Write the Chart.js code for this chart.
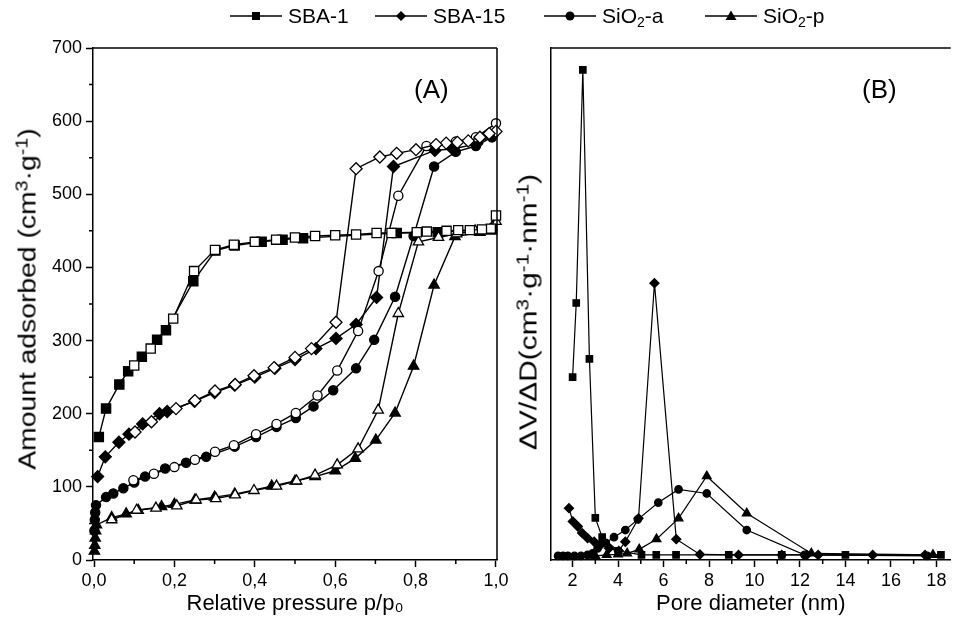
<!DOCTYPE html>
<html><head><meta charset="utf-8">
<script src="https://cdn.jsdelivr.net/npm/chart.js@4.4.1/dist/chart.umd.min.js"></script>
<style>
html,body{margin:0;padding:0;background:#fff;}
#wrap{position:relative;width:957px;height:628px;overflow:hidden;font-family:"Liberation Sans",Arial,sans-serif;color:#000;}
canvas{position:absolute;left:0;top:0;}
.item{position:absolute;top:2px;height:28px;display:flex;align-items:center;font-size:21px;white-space:nowrap;}
.item svg{margin-right:6px;}
.sb{font-size:14px;position:relative;top:6px;line-height:0;}
.lab{position:absolute;font-size:26px;line-height:1;}
.ytitle{position:absolute;font-size:23px;line-height:1;white-space:nowrap;}
.ytitle .sp{font-size:16px;position:relative;top:-8px;line-height:0;}
</style></head>
<body><div id="wrap">
<canvas id="cA" width="957" height="628"></canvas>
<canvas id="cB" width="957" height="628"></canvas>
<div class="item" style="left:230px"><svg width="52" height="20"><line x1="0" y1="10" x2="52" y2="10" stroke="#000" stroke-width="1.5"/><rect x="22" y="6" width="8" height="8" fill="#000"/></svg>SBA-1</div>
<div class="item" style="left:375px"><svg width="52" height="20"><line x1="0" y1="10" x2="52" y2="10" stroke="#000" stroke-width="1.5"/><polygon points="26,5 31,10 26,15 21,10" fill="#000"/></svg>SBA-15</div>
<div class="item" style="left:544px"><svg width="52" height="20"><line x1="0" y1="10" x2="52" y2="10" stroke="#000" stroke-width="1.5"/><circle cx="26" cy="10" r="4.5" fill="#000"/></svg>SiO<span class="sb">2</span>-a</div>
<div class="item" style="left:705px"><svg width="52" height="20"><line x1="0" y1="10" x2="52" y2="10" stroke="#000" stroke-width="1.5"/><polygon points="26,4.5 31.5,14 20.5,14" fill="#000"/></svg>SiO<span class="sb">2</span>-p</div>
<div class="lab" style="left:414px;top:76px">(A)</div>
<div class="lab" style="left:862px;top:76px">(B)</div>
<div class="ytitle" style="left:28px;top:299px;transform:translate(-50%,-50%) scale(1,1.23) rotate(-90deg)">Amount adsorbed (cm<span class="sp">3</span>·g<span class="sp">-1</span>)</div>
<div class="ytitle" style="left:529px;top:312px;transform:translate(-50%,-50%) scale(1,1.3) rotate(-90deg)">ΔV/ΔD(cm<span class="sp">3</span>·g<span class="sp">-1</span>·nm<span class="sp">-1</span>)</div>
</div>
<script>
// ---------- Panel A: isotherms (p/p0, cm3/g) ----------
const sba1AdsP = [0.012,0.03,0.063,0.085,0.119,0.157,0.179,0.247,0.302,0.35,0.417,0.469,0.52,0.753,0.855,0.99];
const sba1AdsV = [168,207,240,258,278,301,314,381,423,430,435,438,440,447,448,452];
const sba1DesP = [1.0,0.987,0.965,0.935,0.906,0.877,0.828,0.803,0.74,0.703,0.652,0.6,0.55,0.5,0.453,0.4,0.348,0.301,0.249,0.197,0.141,0.1];
const sba1DesV = [471,453,452,451,451,450,449,448,447,447,445,444,443,441,438,435,431,424,395,330,289,266];

const sba15AdsP = [0.009,0.028,0.062,0.087,0.121,0.163,0.182,0.25,0.3,0.35,0.4,0.45,0.5,0.552,0.602,0.652,0.703,0.745,0.848,0.892,0.952,0.99];
const sba15AdsV = [114,141,161,172,186,200,203,217,229,239,250,262,274,289,303,322,359,538,560,562,569,580];
const sba15DesP = [1.0,0.983,0.96,0.931,0.904,0.876,0.851,0.801,0.753,0.711,0.652,0.602,0.541,0.5,0.448,0.398,0.351,0.301,0.251,0.204,0.143,0.102];
const sba15DesV = [586,583,578,573,571,570,568,561,556,551,535,325,289,277,263,252,240,231,218,207,189,175];

const sioaAdsP = [0.001,0.002,0.003,0.005,0.03,0.048,0.073,0.1,0.127,0.177,0.229,0.279,0.35,0.403,0.454,0.502,0.546,0.595,0.652,0.697,0.749,0.795,0.846,0.9,0.95,0.99];
const sioaAdsV = [40,55,65,75,86,91,98,106,114,125,133,141,155,168,182,194,210,232,262,301,360,443,538,558,566,578];
const sioaDesP = [1.0,0.95,0.9,0.827,0.757,0.708,0.657,0.605,0.556,0.502,0.454,0.403,0.348,0.301,0.251,0.2,0.149,0.098];
const sioaDesV = [597,578,572,566,498,395,313,259,225,201,186,172,157,148,137,127,118,109];

const siopAdsP = [0.001,0.002,0.003,0.004,0.006,0.044,0.08,0.11,0.168,0.2,0.251,0.3,0.35,0.442,0.5,0.55,0.6,0.65,0.701,0.749,0.795,0.846,0.898,0.96,0.99];
const siopAdsV = [12,20,30,40,48,58,63,68,73,76,82,86,90,101,108,114,122,139,164,201,265,376,442,448,455];
const siopDesP = [1.0,0.948,0.902,0.857,0.807,0.757,0.707,0.657,0.605,0.55,0.504,0.454,0.398,0.351,0.303,0.254,0.206,0.154,0.106,0.044];
const siopDesV = [463,450,446,441,435,337,205,152,130,116,108,101,95,89,84,82,74,71,68,55];

const xTicksA = [0,0.2,0.4,0.6,0.8,1.0];
const xMinorA = [0.1,0.3,0.5,0.7,0.9];
const yTicksA = [0,100,200,300,400,500,600,700];
const yMinorA = [50,150,250,350,450,550,650];

// ---------- Panel B: pore size distributions (nm, arbitrary units) ----------
const sba1D = [2.0,2.16,2.45,2.74,3.0,3.3,4.0,5.03,5.68,6.55,8.87,11.2,14.0,18.2];
const sba1Y = [35.2,49.8,95.7,38.8,7.5,3.7,1.0,0.2,0.2,0.2,0.2,0.2,0.2,0.2];
const sba15D = [1.84,2.01,2.23,2.42,2.66,2.95,3.24,3.6,4.03,4.32,4.9,5.6,6.56,7.6,9.3,11.2,12.3,12.8,15.2,17.5];
const sba15Y = [9.4,6.8,5.8,4.5,3.5,2.8,2.2,1.5,1.0,2.8,7.4,53.7,3.3,0.3,0.2,0.2,0.2,0.2,0.2,0.2];
const sioaD = [1.36,1.58,1.79,2.08,2.37,2.66,2.88,3.1,3.46,3.82,4.32,4.87,5.77,6.66,7.9,9.66,12.2,17.6];
const sioaY = [0,0,0,0,0,0.2,0.5,1.5,2.6,3.7,5.1,7.2,10.5,13.1,12.3,5.1,0.2,0];
const siopD = [3.0,3.5,4.0,4.4,4.93,5.69,6.66,7.9,9.66,12.5,17.85];
const siopY = [0,0.2,0.3,0.5,1.3,3.3,7.4,15.7,8.4,0.5,0.2];

const xTicksB = [2,4,6,8,10,12,14,16,18];
const xMinorB = [3,5,7,9,11,13,15,17];

const FAM = '"Liberation Sans", Arial, sans-serif';
const pts = (xs, ys) => xs.map((x, i) => ({x: x, y: ys[i]}));

const framePlugin = {
  id: 'frame',
  afterDraw(chart, args, opts) {
    const {ctx, chartArea: a, scales} = chart;
    ctx.save();
    ctx.strokeStyle = '#000';
    ctx.lineWidth = 1.5;
    ctx.beginPath();
    ctx.moveTo(a.left, a.top); ctx.lineTo(a.right, a.top);
    if (opts.right) { ctx.moveTo(a.right, a.top); ctx.lineTo(a.right, a.bottom); }
    ctx.stroke();
    ctx.beginPath();
    (opts.minorX || []).forEach(v => { const px = scales.x.getPixelForValue(v); ctx.moveTo(px, a.bottom); ctx.lineTo(px, a.bottom + 4); });
    (opts.minorY || []).forEach(v => { const py = scales.y.getPixelForValue(v); ctx.moveTo(a.left, py); ctx.lineTo(a.left - 4, py); });
    ctx.stroke();
    ctx.restore();
  }
};

function ds(data, style, r, open, order, lw) {
  return {
    data: data, showLine: true, borderColor: '#000', borderWidth: lw,
    pointStyle: style, pointRadius: r, pointBorderWidth: 1.3,
    pointBackgroundColor: open ? '#fff' : '#000', pointBorderColor: '#000',
    backgroundColor: open ? '#fff' : '#000', fill: false, tension: 0, clip: false, order: order
  };
}

new Chart(document.getElementById('cA'), {
  type: 'scatter',
  data: { datasets: [
    ds(pts(sba1AdsP, sba1AdsV), 'rect', 6.5, false, 2, 1.4),
    ds(pts(sba1DesP, sba1DesV), 'rect', 6.5, true, 1, 1.4),
    ds(pts(sba15AdsP, sba15AdsV), 'rectRot', 6, false, 2, 1.4),
    ds(pts(sba15DesP, sba15DesV), 'rectRot', 6, true, 1, 1.4),
    ds(pts(sioaAdsP, sioaAdsV), 'circle', 4.6, false, 2, 1.4),
    ds(pts(sioaDesP, sioaDesV), 'circle', 4.6, true, 1, 1.4),
    ds(pts(siopAdsP, siopAdsV), 'triangle', 6, false, 2, 1.4),
    ds(pts(siopDesP, siopDesV), 'triangle', 6, true, 1, 1.4)
  ]},
  options: {
    responsive: false, animation: false, events: [],
    layout: { padding: { left: 0, right: 460, top: 48, bottom: 0 } },
    plugins: { legend: { display: false }, tooltip: { enabled: false },
      frame: { right: true, minorX: xMinorA, minorY: yMinorA } },
    scales: {
      x: { type: 'linear', min: -0.0025, max: 1.0025,
        afterBuildTicks: s => { s.ticks = xTicksA.map(v => ({value: v})); },
        afterFit: s => { s.height = 68; },
        grid: { drawOnChartArea: false, drawTicks: true, tickLength: 7, tickWidth: 1.5, tickColor: '#000' },
        border: { display: true, color: '#000', width: 1.5 },
        ticks: { color: '#000', font: { size: 18, family: FAM }, padding: 3, maxRotation: 0, autoSkip: false,
          callback: v => v.toFixed(1).replace('.', ',') },
        title: { display: true, text: 'Relative pressure p/p₀', color: '#000', font: { size: 22, family: FAM }, padding: { bottom: 11 } } },
      y: { type: 'linear', min: 0, max: 700,
        afterBuildTicks: s => { s.ticks = yTicksA.map(v => ({value: v})); },
        afterFit: s => { s.width = 93; },
        grid: { drawOnChartArea: false, drawTicks: true, tickLength: 7, tickWidth: 1.5, tickColor: '#000' },
        border: { display: true, color: '#000', width: 1.5 },
        ticks: { color: '#000', font: { size: 18, family: FAM }, padding: 4, autoSkip: false },
        title: { display: false } }
    }
  },
  plugins: [framePlugin]
});

new Chart(document.getElementById('cB'), {
  type: 'scatter',
  data: { datasets: [
    ds(pts(sba1D, sba1Y), 'rect', 4.5, false, 1, 1.2),
    ds(pts(sba15D, sba15Y), 'rectRot', 4.5, false, 1, 1.2),
    ds(pts(sioaD, sioaY), 'circle', 3.7, false, 1, 1.2),
    ds(pts(siopD, siopY), 'triangle', 5, false, 1, 1.2)
  ]},
  options: {
    responsive: false, animation: false, events: [],
    layout: { padding: { left: 511, right: 0, top: 48, bottom: 0 } },
    plugins: { legend: { display: false }, tooltip: { enabled: false },
      frame: { right: false, minorX: xMinorB } },
    scales: {
      x: { type: 'linear', min: 1.05, max: 18.63,
        afterBuildTicks: s => { s.ticks = xTicksB.map(v => ({value: v})); },
        afterFit: s => { s.height = 68; },
        grid: { drawOnChartArea: false, drawTicks: true, tickLength: 7, tickWidth: 1.5, tickColor: '#000' },
        border: { display: true, color: '#000', width: 1.5 },
        ticks: { color: '#000', font: { size: 18, family: FAM }, padding: 3, maxRotation: 0, autoSkip: false },
        title: { display: true, text: 'Pore diameter (nm)', color: '#000', font: { size: 22, family: FAM }, padding: { bottom: 11 } } },
      y: { type: 'linear', min: -0.8, max: 100,
        afterFit: s => { s.width = 40; },
        grid: { display: false, drawOnChartArea: false, drawTicks: false },
        border: { display: true, color: '#000', width: 1.5 },
        ticks: { display: false },
        title: { display: false } }
    }
  },
  plugins: [framePlugin]
});
</script>
</body></html>
